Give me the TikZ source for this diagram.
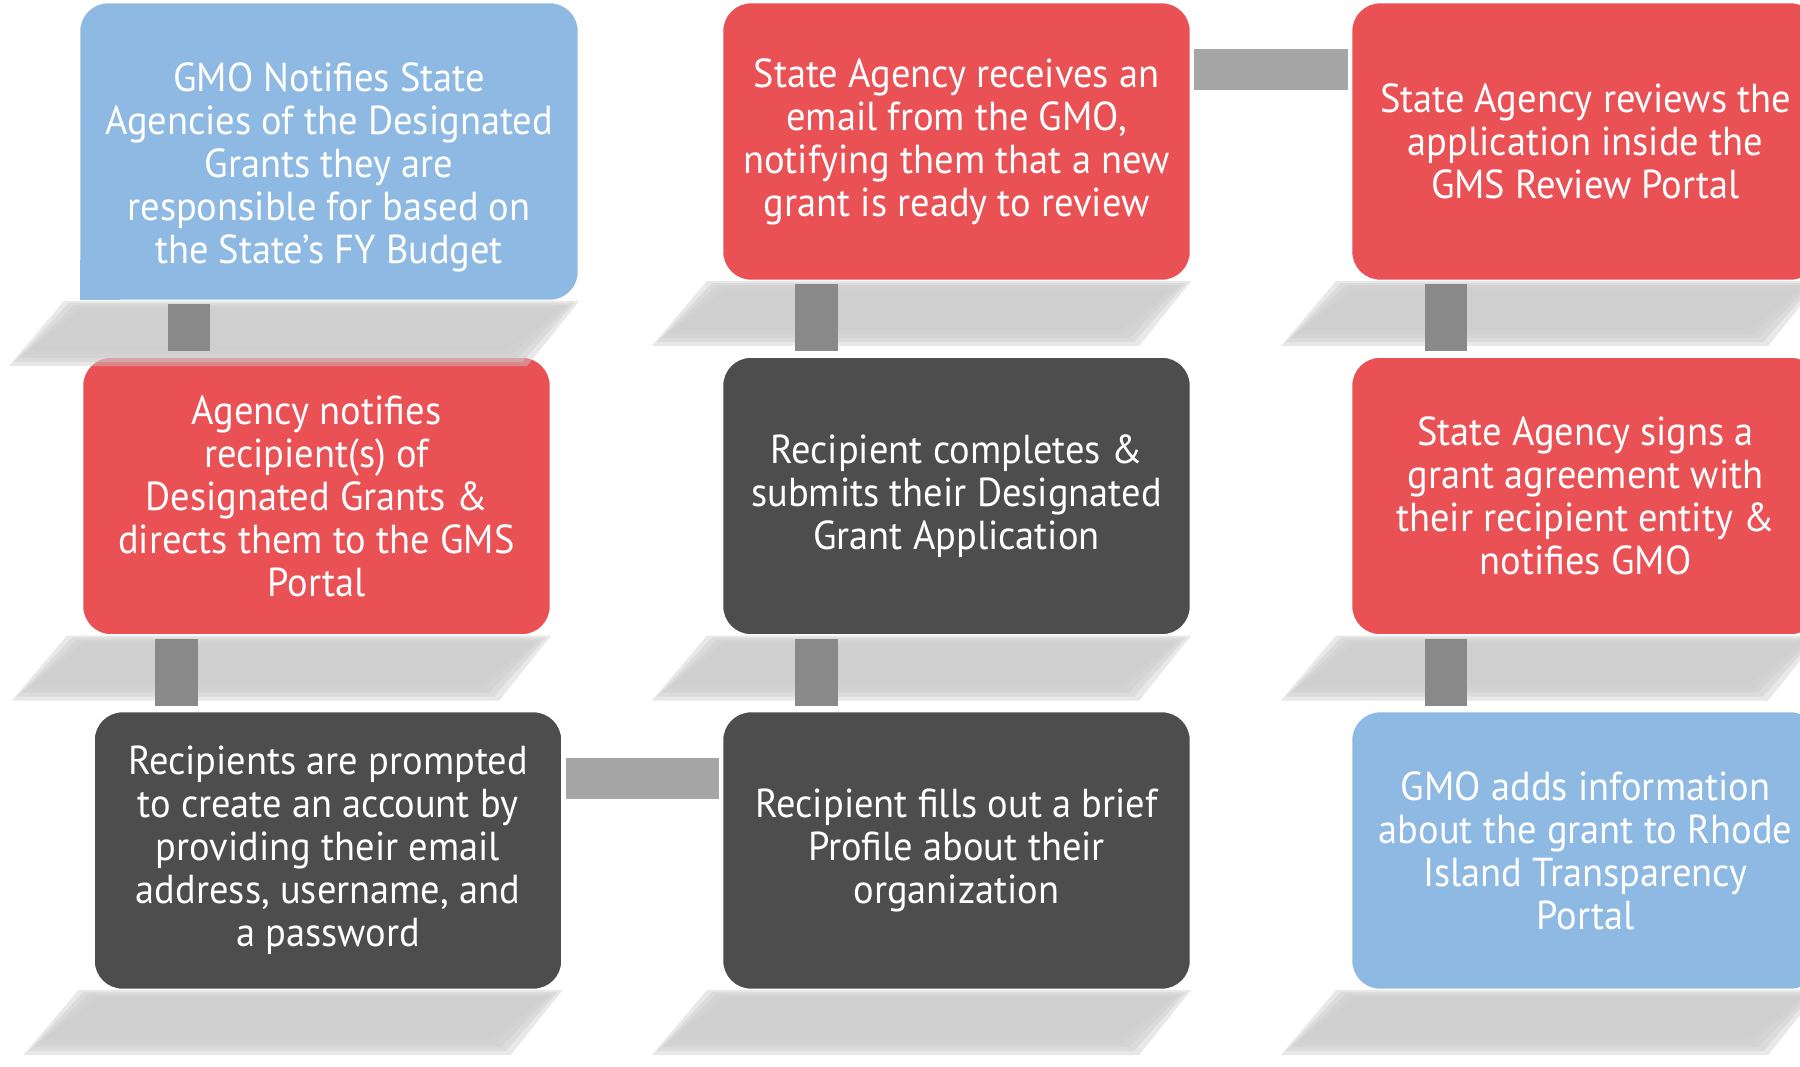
\documentclass[tikz,border=0pt]{standalone}
\usepackage{fontspec}
\setmainfont{PT Sans}[FakeStretch=0.95]
\usetikzlibrary{calc,positioning}
\definecolor{gmoblue}{RGB}{142,185,227}
\definecolor{agred}{RGB}{233,81,85}
\definecolor{recgray}{RGB}{77,77,77}
\definecolor{vbargray}{RGB}{137,137,137}
\definecolor{hbargray}{RGB}{166,166,166}
\colorlet{floorgray}{black!20}
\newcommand\stagefont{\fontsize{11.5}{12.24}\selectfont}
\tikzset{
  stage/.style={rectangle,rounded corners=.29cm,minimum width=4.69cm,minimum height=2.79cm,
    inner sep=0pt,outer sep=0pt,align=center,text=white,font=\stagefont,draw=white,line width=.8pt},
  vbar/.style={draw=vbargray,line width=.42cm,shorten <=.03cm,shorten >=.05cm},
  hbar/.style={draw=hbargray,line width=.40cm,shorten <=.03cm,shorten >=.03cm},
}

\begin{document}
\begin{tikzpicture}[x=0.01cm,y=-0.01cm]%
        \clip (0,0) rectangle (1800,1067);%%
        \begin{scope}[every node/.style={stage}]
        % first column
        \node[fill=gmoblue,minimum width=5cm,minimum height=2.99cm] (b11) at (329,151.5)
          {\rule{0pt}{17pt}GMO Notifies State\\Agencies of the Designated\\Grants they are\\responsible for based on\\the State’s FY Budget}; %%
        \node[fill=agred] (b12) at (316.5,496)
          {Agency notifies\\recipient(s) of\\Designated Grants \&\\directs them to the GMS\\Portal}; %%
        \node[fill=recgray] (b13) at (328,850.5)
          {Recipients are prompted\\to create an account by\\providing their email\\address, username, and\\a password}; %%
        % second column
        \node[fill=agred] (b21) at (956.5,141.5)
          {State Agency receives an\\email from the GMO,\\notifying them that a new\\grant is ready to review}; %%
        \node[fill=recgray] (b22) at (956.5,496)
          {Recipient completes \&\\submits their Designated\\Grant Application}; %%
        \node[fill=recgray] (b23) at (956.5,850.5)
          {Recipient fills out a brief\\Profile about their\\organization}; %%
        % third column
        \node[fill=agred] (b31) at (1585.5,141.5)
          {State Agency reviews the\\application inside the\\GMS Review Portal}; %%
        \node[fill=agred] (b32) at (1585.5,496)
          {State Agency signs a\\grant agreement with\\their recipient entity \&\\notifies GMO}; %%
        \node[fill=gmoblue] (b33) at (1585.5,850.5)
          {GMO adds information\\about the grant to Rhode\\Island Transparency\\Portal}; %%
        \end{scope}
        \fill[gmoblue] ([shift={(.4pt,.4pt)}]b11.south west) rectangle ++(40,-40); %%
        % soft slanted shadows under the boxes
        \foreach \n in {b11,b12,b13,b21,b22,b23,b31,b32,b33}{
          \foreach \k in {0,...,4}{
            \fill[floorgray,fill opacity=.45] ($(\n.south west)+(-15+5*\k,2*\k)$)
              -- ($(\n.south east)+(-5*\k,2*\k)$)
              -- ($(\n.south east)+(-52-5*\k,65-4*\k)$)
              -- ($(\n.south west)+(-70+5*\k,65-4*\k)$) -- cycle; %%
          }
        }
        % links
        \coordinate (v1) at ($(b11.south)+(-140,0)$); %%
        \coordinate (v2) at ($(b12.south)+(-140,0)$); %%
        \coordinate (v3) at ($(b21.south)+(-140,0)$); %%
        \coordinate (v4) at ($(b22.south)+(-140,0)$); %%
        \coordinate (v5) at ($(b31.south)+(-140,0)$); %%
        \coordinate (v6) at ($(b32.south)+(-140,0)$); %%
        \draw[vbar] (v1)--(v1 |- b12.north); %%
        \draw[vbar] (v2)--(v2 |- b13.north); %%
        \draw[vbar] (v3)--(v3 |- b22.north); %%
        \draw[vbar] (v4)--(v4 |- b23.north); %%
        \draw[vbar] (v5)--(v5 |- b32.north); %%
        \draw[vbar] (v6)--(v6 |- b33.north); %%
        \coordinate (h1) at ($(b13.east)+(0,-72)$); %%
        \coordinate (h2) at ($(b21.east)+(0,-72)$); %%
        \draw[hbar] (h1)--(h1 -| b23.west); %%
        \draw[hbar] (h2)--(h2 -| b31.west); %%
\end{tikzpicture}
\end{document}
